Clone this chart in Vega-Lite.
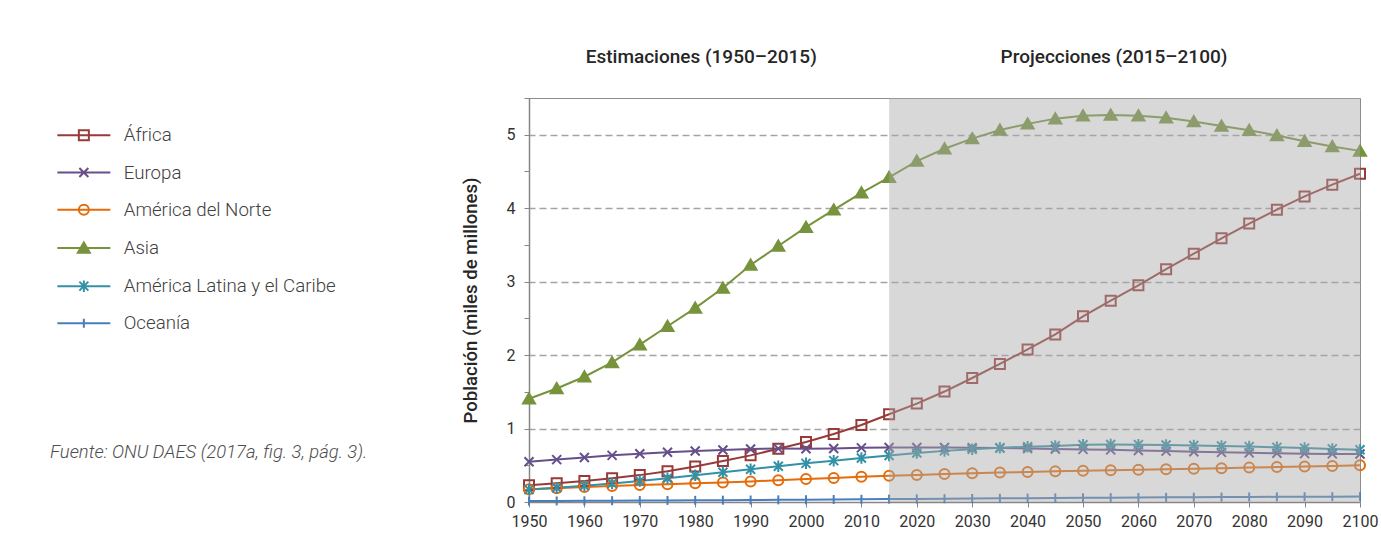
{
  "$schema": "https://vega.github.io/schema/vega-lite/v6.json",
  "width": 831,
  "height": 404,
  "autosize": {"type": "none"},
  "padding": {"left": 529, "top": 98, "right": 21, "bottom": 51},
  "background": "white",
  "config": {"font": "Roboto", "view": {"stroke": "#8c8c8c", "strokeWidth": 1}},
  "title": {
    "text": "Fuente: ONU DAES (2017a, fig. 3, pág. 3).",
    "orient": "bottom", "anchor": "start", "frame": "group",
    "dx": -479, "dy": -86, "offset": 0,
    "fontSize": 18.4, "fontStyle": "italic", "fontWeight": 300, "color": "#4d4d4d", "font": "Roboto"
  },
  "datasets": {
    "pop": [
      {"year": 1950, "África": 0.229, "Europa": 0.549, "América del Norte": 0.173, "Asia": 1.405, "América Latina y el Caribe": 0.169, "Oceanía": 0.0127},
      {"year": 1955, "África": 0.255, "Europa": 0.577, "América del Norte": 0.187, "Asia": 1.545, "América Latina y el Caribe": 0.193, "Oceanía": 0.0142},
      {"year": 1960, "África": 0.285, "Europa": 0.606, "América del Norte": 0.204, "Asia": 1.705, "América Latina y el Caribe": 0.220, "Oceanía": 0.0159},
      {"year": 1965, "África": 0.322, "Europa": 0.635, "América del Norte": 0.219, "Asia": 1.900, "América Latina y el Caribe": 0.253, "Oceanía": 0.0177},
      {"year": 1970, "África": 0.366, "Europa": 0.657, "América del Norte": 0.231, "Asia": 2.142, "América Latina y el Caribe": 0.287, "Oceanía": 0.0197},
      {"year": 1975, "África": 0.419, "Europa": 0.677, "América del Norte": 0.242, "Asia": 2.393, "América Latina y el Caribe": 0.324, "Oceanía": 0.0215},
      {"year": 1980, "África": 0.483, "Europa": 0.694, "América del Norte": 0.254, "Asia": 2.640, "América Latina y el Caribe": 0.363, "Oceanía": 0.0228},
      {"year": 1985, "África": 0.558, "Europa": 0.708, "América del Norte": 0.267, "Asia": 2.914, "América Latina y el Caribe": 0.404, "Oceanía": 0.0247},
      {"year": 1990, "África": 0.635, "Europa": 0.722, "América del Norte": 0.280, "Asia": 3.226, "América Latina y el Caribe": 0.446, "Oceanía": 0.0270},
      {"year": 1995, "África": 0.725, "Europa": 0.727, "América del Norte": 0.296, "Asia": 3.485, "América Latina y el Caribe": 0.487, "Oceanía": 0.0291},
      {"year": 2000, "África": 0.818, "Europa": 0.726, "América del Norte": 0.313, "Asia": 3.741, "América Latina y el Caribe": 0.526, "Oceanía": 0.0312},
      {"year": 2005, "África": 0.925, "Europa": 0.729, "América del Norte": 0.328, "Asia": 3.977, "América Latina y el Caribe": 0.563, "Oceanía": 0.0337},
      {"year": 2010, "África": 1.049, "Europa": 0.737, "América del Norte": 0.344, "Asia": 4.209, "América Latina y el Caribe": 0.599, "Oceanía": 0.0368},
      {"year": 2015, "África": 1.194, "Europa": 0.741, "América del Norte": 0.358, "Asia": 4.420, "América Latina y el Caribe": 0.634, "Oceanía": 0.0396},
      {"year": 2020, "África": 1.340, "Europa": 0.743, "América del Norte": 0.369, "Asia": 4.641, "América Latina y el Caribe": 0.667, "Oceanía": 0.0424},
      {"year": 2025, "África": 1.504, "Europa": 0.742, "América del Norte": 0.380, "Asia": 4.809, "América Latina y el Caribe": 0.696, "Oceanía": 0.0450},
      {"year": 2030, "África": 1.688, "Europa": 0.739, "América del Norte": 0.391, "Asia": 4.947, "América Latina y el Caribe": 0.718, "Oceanía": 0.0476},
      {"year": 2035, "África": 1.879, "Europa": 0.734, "América del Norte": 0.401, "Asia": 5.065, "América Latina y el Caribe": 0.738, "Oceanía": 0.0502},
      {"year": 2040, "África": 2.077, "Europa": 0.728, "América del Norte": 0.409, "Asia": 5.148, "América Latina y el Caribe": 0.753, "Oceanía": 0.0527},
      {"year": 2045, "África": 2.281, "Europa": 0.721, "América del Norte": 0.417, "Asia": 5.219, "América Latina y el Caribe": 0.764, "Oceanía": 0.0550},
      {"year": 2050, "África": 2.528, "Europa": 0.716, "América del Norte": 0.425, "Asia": 5.257, "América Latina y el Caribe": 0.780, "Oceanía": 0.0571},
      {"year": 2055, "África": 2.740, "Europa": 0.710, "América del Norte": 0.432, "Asia": 5.270, "América Latina y el Caribe": 0.782, "Oceanía": 0.0591},
      {"year": 2060, "África": 2.950, "Europa": 0.702, "América del Norte": 0.439, "Asia": 5.260, "América Latina y el Caribe": 0.781, "Oceanía": 0.0612},
      {"year": 2065, "África": 3.170, "Europa": 0.693, "América del Norte": 0.446, "Asia": 5.230, "América Latina y el Caribe": 0.777, "Oceanía": 0.0631},
      {"year": 2070, "África": 3.380, "Europa": 0.684, "América del Norte": 0.453, "Asia": 5.180, "América Latina y el Caribe": 0.770, "Oceanía": 0.0649},
      {"year": 2075, "África": 3.590, "Europa": 0.676, "América del Norte": 0.461, "Asia": 5.120, "América Latina y el Caribe": 0.763, "Oceanía": 0.0667},
      {"year": 2080, "África": 3.790, "Europa": 0.669, "América del Norte": 0.468, "Asia": 5.060, "América Latina y el Caribe": 0.754, "Oceanía": 0.0685},
      {"year": 2085, "África": 3.980, "Europa": 0.663, "América del Norte": 0.476, "Asia": 4.990, "América Latina y el Caribe": 0.744, "Oceanía": 0.0701},
      {"year": 2090, "África": 4.160, "Europa": 0.658, "América del Norte": 0.484, "Asia": 4.910, "América Latina y el Caribe": 0.734, "Oceanía": 0.0716},
      {"year": 2095, "África": 4.320, "Europa": 0.655, "América del Norte": 0.491, "Asia": 4.840, "América Latina y el Caribe": 0.723, "Oceanía": 0.0731},
      {"year": 2100, "África": 4.468, "Europa": 0.653, "América del Norte": 0.499, "Asia": 4.780, "América Latina y el Caribe": 0.712, "Oceanía": 0.0748}
    ],
    "periodo": [{"start": 2015, "end": 2100}]
  },
  "layer": [
    {
      "data": {"name": "pop"},
      "transform": [{"fold": ["África", "Europa", "América del Norte", "Asia", "América Latina y el Caribe", "Oceanía"], "as": ["region", "pop"]}],
      "mark": {"type": "line", "strokeWidth": 2},
      "encoding": {
        "x": {"field": "year", "type": "quantitative",
          "scale": {"domain": [1950, 2100], "nice": false, "zero": false},
          "axis": {"values": [1950, 1960, 1970, 1980, 1990, 2000, 2010, 2020, 2030, 2040, 2050, 2060, 2070, 2080, 2090, 2100],
            "format": "d", "title": null, "grid": false, "tickSize": 5, "tickColor": "#868686",
            "domainColor": "#868686", "domainWidth": 1.5, "labelFontSize": 16, "labelColor": "#333333",
            "labelPadding": 6, "labelFlush": false, "labelOverlap": false}},
        "y": {"field": "pop", "type": "quantitative",
          "scale": {"domain": [0, 5.5], "nice": false},
          "axis": {"orient": "left", "values": [0, 0.5, 1, 1.5, 2, 2.5, 3, 3.5, 4, 4.5, 5, 5.5],
            "labelExpr": "datum.value % 1 === 0 && datum.value <= 5 ? '' + datum.value : ''",
            "grid": false,
            "tickSize": 5, "tickColor": "#868686", "domainColor": "#868686", "domainWidth": 1.5,
            "labelFontSize": 16, "labelColor": "#333333", "labelPadding": 9, "labelOverlap": false,
            "title": "Población (miles de millones)", "titleFontSize": 18.6, "titleFontWeight": 500,
            "titleColor": "#262626", "titlePadding": 26}},
        "stroke": {"field": "region", "type": "nominal",
          "scale": {"domain": ["África", "Europa", "América del Norte", "Asia", "América Latina y el Caribe", "Oceanía"],
            "range": ["#983a38", "#664f8a", "#e46c0a", "#77933c", "#3391a6", "#4a7ebb"]},
          "legend": null}
      }
    },
    {
      "data": {"name": "pop"},
      "transform": [{"fold": ["África", "Europa", "América del Norte", "Asia", "América Latina y el Caribe", "Oceanía"], "as": ["region", "pop"]}],
      "mark": {"type": "point", "size": 100, "strokeWidth": 2, "opacity": 1},
      "encoding": {
        "x": {"field": "year", "type": "quantitative", "axis": null},
        "y": {"field": "pop", "type": "quantitative",
          "axis": {"orient": "right", "values": [1, 2, 3, 4, 5], "grid": true, "gridDash": [7, 4],
            "gridColor": "#a3a3a3", "gridWidth": 1.3, "domain": false, "ticks": false, "labels": false, "title": null}},
        "stroke": {"field": "region", "type": "nominal",
          "scale": {"domain": ["África", "Europa", "América del Norte", "Asia", "América Latina y el Caribe", "Oceanía"],
            "range": ["#983a38", "#664f8a", "#e46c0a", "#77933c", "#3391a6", "#4a7ebb"]},
          "legend": null},
        "fill": {"field": "region", "type": "nominal",
          "scale": {"domain": ["África", "Europa", "América del Norte", "Asia", "América Latina y el Caribe", "Oceanía"],
            "range": ["transparent", "transparent", "transparent", "#77933c", "transparent", "transparent"]},
          "legend": null},
        "shape": {"field": "region", "type": "nominal",
          "scale": {"domain": ["África", "Europa", "América del Norte", "Asia", "América Latina y el Caribe", "Oceanía"],
            "range": ["square", "M-0.9,-0.9L0.9,0.9M-0.9,0.9L0.9,-0.9", "circle", "M0,-1.1L1.2,0.95L-1.2,0.95Z", "M-0.9,-0.9L0.9,0.9M-0.9,0.9L0.9,-0.9M0,-1.15L0,1.15", "M0,-0.9L0,0.9"]},
          "legend": null}
      }
    },
    {
      "data": {"name": "periodo"},
      "mark": {"type": "rect", "color": "#a9a9a9", "opacity": 0.45},
      "encoding": {
        "x": {"field": "start", "type": "quantitative",
          "axis": {"orient": "top", "values": [1981, 2055.5],
            "labelExpr": "datum.value < 2015 ? 'Estimaciones (1950–2015)' : 'Projecciones (2015–2100)'",
            "title": null, "domain": false, "ticks": false, "grid": false,
            "labelFontSize": 19, "labelFontWeight": 500, "labelColor": "#262626",
            "labelPadding": 32, "labelFlush": false, "labelOverlap": false, "labelBound": false, "labelLimit": 400}},
        "x2": {"field": "end"}
      }
    },
    {
      "data": {"name": "pop"},
      "transform": [
        {"fold": ["África", "Europa", "América del Norte", "Asia", "América Latina y el Caribe", "Oceanía"], "as": ["region", "pop"]},
        {"filter": "false"}
      ],
      "mark": {"type": "point", "size": 100, "strokeWidth": 2, "opacity": 1},
      "encoding": {
        "stroke": {"field": "region", "type": "nominal",
          "scale": {"domain": ["África", "Europa", "América del Norte", "Asia", "América Latina y el Caribe", "Oceanía"],
            "range": ["#983a38", "#664f8a", "#e46c0a", "#77933c", "#3391a6", "#4a7ebb"]},
          "legend": {"title": null, "orient": "none", "legendX": -454.5, "legendY": 28,
            "labelFontSize": 18.7, "labelFont": "Roboto", "labelFontWeight": 300, "labelColor": "#404040",
            "labelLimit": 400, "labelOffset": 30.5, "rowPadding": 17.2, "symbolSize": 100,
            "symbolStrokeWidth": 2, "symbolFillColor": "transparent", "symbolOpacity": 1}},
        "fill": {"field": "region", "type": "nominal",
          "scale": {"domain": ["África", "Europa", "América del Norte", "Asia", "América Latina y el Caribe", "Oceanía"],
            "range": ["transparent", "transparent", "transparent", "#77933c", "transparent", "transparent"]},
          "legend": {"title": null, "orient": "none", "legendX": -454.5, "legendY": 28,
            "labelFontSize": 18.7, "labelFont": "Roboto", "labelFontWeight": 300, "labelColor": "#404040",
            "labelLimit": 400, "labelOffset": 30.5, "rowPadding": 17.2, "symbolSize": 100,
            "symbolStrokeWidth": 2, "symbolFillColor": "transparent", "symbolOpacity": 1}},
        "shape": {"field": "region", "type": "nominal",
          "scale": {"domain": ["África", "Europa", "América del Norte", "Asia", "América Latina y el Caribe", "Oceanía"],
            "range": ["M-5.3,0L5.3,0M-1,-1L1,-1L1,1L-1,1Z", "M-5.3,0L5.3,0M-0.9,-0.9L0.9,0.9M-0.9,0.9L0.9,-0.9", "M-5.3,0L5.3,0M1,0A1,1,0,1,1,-1,0A1,1,0,1,1,1,0Z", "M-5.3,0L5.3,0M0,-1.1L1.2,0.95L-1.2,0.95Z", "M-5.3,0L5.3,0M-0.9,-0.9L0.9,0.9M-0.9,0.9L0.9,-0.9M0,-1.15L0,1.15", "M-5.3,0L5.3,0M0,-0.9L0,0.9"]},
          "legend": {"title": null, "orient": "none", "legendX": -454.5, "legendY": 28,
            "labelFontSize": 18.7, "labelFont": "Roboto", "labelFontWeight": 300, "labelColor": "#404040",
            "labelLimit": 400, "labelOffset": 30.5, "rowPadding": 17.2, "symbolSize": 100,
            "symbolStrokeWidth": 2, "symbolFillColor": "transparent", "symbolOpacity": 1}}
      }
    }
  ],
  "resolve": {
    "scale": {"stroke": "independent", "fill": "independent", "shape": "independent"},
    "axis": {"x": "independent", "y": "independent"}
  }
}
